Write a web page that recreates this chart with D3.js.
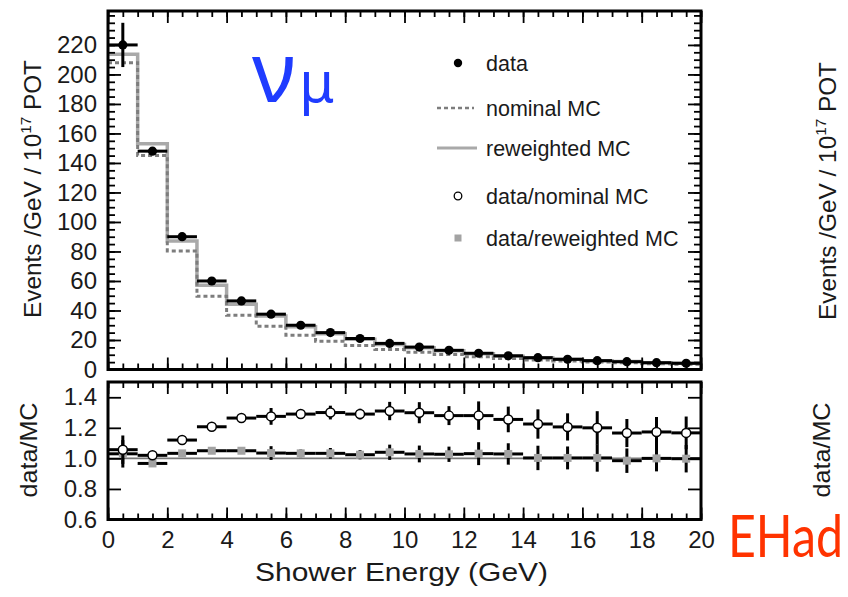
<!DOCTYPE html>
<html>
<head>
<meta charset="utf-8">
<script src="https://cdn.jsdelivr.net/npm/d3@7"></script>
<style>
  body { margin: 0; background: #fff; }
  svg { display: block; font-family: "Liberation Sans", Arial, Helvetica, sans-serif; }
</style>
</head>
<body>
<div id="chart"></div>
<script>
// Bins of shower energy (GeV)
const binLo = [0, 1, 2, 3, 4, 5, 6, 7, 8, 9, 10, 11, 12, 13, 14, 15, 16, 17, 18, 19];
const binHi = [1, 2, 3, 4, 5, 6, 7, 8, 9, 10, 11, 12, 13, 14, 15, 16, 17, 18, 19, 20];

// Events /GeV / 1e17 POT
const dataEvents = [220, 148, 90, 60, 46.5, 37.5, 30, 25, 21, 17.7, 15.2, 13, 11, 9.3, 8, 6.9, 6, 5.3, 4.6, 4.2];
const dataErr = [15, 2.5, 1.5, 1.2, 1.1, 1.5, 1.0, 1.0, 0.8, 1.0, 1.0, 0.8, 1.0, 0.8, 0.8, 0.6, 0.6, 0.5, 0.5, 0.45];
const nominalMC = [208, 145, 80.4, 49.7, 36.8, 29.4, 23.3, 19.2, 16.3, 13.5, 11.7, 10.2, 8.6, 7.4, 6.5, 5.7, 5.0, 4.5, 3.9, 3.6];
const reweightedMC = [213.6, 153, 87.1, 57.1, 44.3, 36.2, 29, 24.2, 20.5, 17, 14.8, 12.7, 10.7, 9.0, 8.0, 6.9, 6.0, 5.4, 4.6, 4.2];

// ratios
const ratioNominal = [1.057, 1.02, 1.12, 1.207, 1.264, 1.275, 1.29, 1.30, 1.29, 1.31, 1.299, 1.28, 1.28, 1.255, 1.225, 1.206, 1.2, 1.166, 1.173, 1.167];
const ratioNominalErr = [0.093, 0.015, 0.015, 0.02, 0.025, 0.055, 0.03, 0.045, 0.035, 0.06, 0.069, 0.062, 0.093, 0.084, 0.096, 0.089, 0.109, 0.092, 0.098, 0.107];
const ratioReweighted = [1.03, 0.967, 1.033, 1.05, 1.05, 1.035, 1.033, 1.033, 1.024, 1.04, 1.029, 1.027, 1.031, 1.029, 1.003, 1.003, 1.003, 0.985, 1.0, 0.998];
const ratioReweightedErr = [0.09, 0.015, 0.015, 0.02, 0.02, 0.045, 0.025, 0.035, 0.03, 0.05, 0.055, 0.05, 0.075, 0.07, 0.08, 0.075, 0.09, 0.08, 0.085, 0.09];

// tick labels
const xTicks = [0, 2, 4, 6, 8, 10, 12, 14, 16, 18, 20];
const eventTicks = [0, 20, 40, 60, 80, 100, 120, 140, 160, 180, 200, 220];
const ratioTicks = [0.6, 0.8, 1.0, 1.2, 1.4];
const legendLabels = ["data", "nominal MC", "reweighted MC", "data/nominal MC", "data/reweighted MC"];

const width = 848, height = 597;
const svg = d3.select("#chart").append("svg")
    .attr("width", width)
    .attr("height", height);

// scales
const xScale = d3.scaleLinear().domain([0, 20]).range([108, 701]);
const yEvents = d3.scaleLinear().domain([0, 243]).range([369.5, 11]);
const yRatio = d3.scaleLinear().domain([0.6, 1.5]).range([519.5, 382]);

const bins = binLo.map((lo, i) => ({
    lo: lo, hi: binHi[i], mid: (lo + binHi[i]) / 2,
    data: dataEvents[i], err: dataErr[i],
    nom: nominalMC[i], rw: reweightedMC[i],
    rNom: ratioNominal[i], rNomErr: ratioNominalErr[i],
    rRw: ratioReweighted[i], rRwErr: ratioReweightedErr[i]
}));

// draw ticks for one panel (inward ticks on all four sides)
function panelAxes(yScale, majorY, minorY, showXLabels) {
    const top = yScale.range()[1], bottom = yScale.range()[0];
    const x0 = xScale.range()[0], x1 = xScale.range()[1];
    const minorX = d3.range(0, 20.01, 0.5);

    const axes = [
        [d3.axisBottom(xScale).tickValues(xTicks).tickSize(-12), `translate(0,${bottom})`, showXLabels],
        [d3.axisBottom(xScale).tickValues(minorX).tickSize(-6), `translate(0,${bottom})`, false],
        [d3.axisTop(xScale).tickValues(xTicks).tickSize(-12), `translate(0,${top})`, false],
        [d3.axisTop(xScale).tickValues(minorX).tickSize(-6), `translate(0,${top})`, false],
        [d3.axisLeft(yScale).tickValues(majorY).tickSize(-13), `translate(${x0},0)`, true],
        [d3.axisRight(yScale).tickValues(majorY).tickSize(-13), `translate(${x1},0)`, false]
    ];
    if (minorY) {
        axes.push([d3.axisLeft(yScale).tickValues(minorY).tickSize(-7), `translate(${x0},0)`, false]);
        axes.push([d3.axisRight(yScale).tickValues(minorY).tickSize(-7), `translate(${x1},0)`, false]);
    }
    axes.forEach(([axis, tr, labels]) => {
        axis.tickPadding(11);
        if (!labels) axis.tickFormat("");
        else if (axis === axes[4][0]) axis.tickFormat(yScale === yRatio ? d3.format(".1f") : d3.format("d"));
        else axis.tickFormat(d3.format("d"));
        const g = svg.append("g").attr("transform", tr).call(axis);
        g.select(".domain").remove();
        g.selectAll(".tick line").attr("stroke", "#000").attr("stroke-width", 1.8);
        g.selectAll(".tick text")
            .attr("fill", "#1a1a1a")
            .style("font-size", "24px");
    });

    // frame
    svg.append("rect")
        .attr("x", x0).attr("y", top)
        .attr("width", x1 - x0).attr("height", bottom - top)
        .attr("fill", "none").attr("stroke", "#000").attr("stroke-width", 3);
}

// ---- top panel ----
const stepPoints = key => bins.flatMap(b => [[b.lo, b[key]], [b.hi, b[key]]]);
const stepLine = d3.line().x(d => xScale(d[0])).y(d => yEvents(d[1]));

svg.append("path")
    .attr("d", stepLine(stepPoints("rw")))
    .attr("fill", "none")
    .attr("stroke", "#a9a9a9")
    .attr("stroke-width", 3.5);

svg.append("path")
    .attr("d", stepLine(stepPoints("nom")))
    .attr("fill", "none")
    .attr("stroke", "#7d7d7d")
    .attr("stroke-width", 3)
    .attr("stroke-dasharray", "4,3");

const dataG = svg.append("g");
dataG.selectAll(".hbar").data(bins).join("line")
    .attr("x1", d => xScale(d.lo)).attr("x2", d => xScale(d.hi))
    .attr("y1", d => yEvents(d.data)).attr("y2", d => yEvents(d.data))
    .attr("stroke", "#000").attr("stroke-width", 3);
dataG.selectAll(".vbar").data(bins).join("line")
    .attr("x1", d => xScale(d.mid)).attr("x2", d => xScale(d.mid))
    .attr("y1", d => yEvents(d.data - d.err)).attr("y2", d => yEvents(d.data + d.err))
    .attr("stroke", "#000").attr("stroke-width", 3);
dataG.selectAll("circle").data(bins).join("circle")
    .attr("cx", d => xScale(d.mid)).attr("cy", d => yEvents(d.data))
    .attr("r", 4.6).attr("fill", "#000");

panelAxes(yEvents, eventTicks, d3.range(0, 241, 5), false);

// ---- ratio panel ----
svg.append("line")
    .attr("x1", xScale(0)).attr("x2", xScale(20))
    .attr("y1", yRatio(1)).attr("y2", yRatio(1))
    .attr("stroke", "#777").attr("stroke-width", 1.6);

function ratioSeries(valKey, errKey, marker) {
    const g = svg.append("g");
    g.selectAll(".hbar").data(bins).join("line")
        .attr("x1", d => xScale(d.lo)).attr("x2", d => xScale(d.hi))
        .attr("y1", d => yRatio(d[valKey])).attr("y2", d => yRatio(d[valKey]))
        .attr("stroke", "#000").attr("stroke-width", 3);
    g.selectAll(".vbar").data(bins).join("line")
        .attr("x1", d => xScale(d.mid)).attr("x2", d => xScale(d.mid))
        .attr("y1", d => yRatio(d[valKey] - d[errKey])).attr("y2", d => yRatio(d[valKey] + d[errKey]))
        .attr("stroke", "#000").attr("stroke-width", 3);
    if (marker === "circle") {
        g.selectAll(".m").data(bins).join("circle")
            .attr("cx", d => xScale(d.mid)).attr("cy", d => yRatio(d[valKey]))
            .attr("r", 4.5).attr("fill", "#fff").attr("stroke", "#000").attr("stroke-width", 1.5);
    } else {
        g.selectAll(".m").data(bins).join("rect")
            .attr("x", d => xScale(d.mid) - 4).attr("y", d => yRatio(d[valKey]) - 4)
            .attr("width", 8).attr("height", 8).attr("fill", "#a3a3a3");
    }
}
ratioSeries("rRw", "rRwErr", "square");
ratioSeries("rNom", "rNomErr", "circle");

panelAxes(yRatio, ratioTicks, null, true);

// ---- axis titles ----
function vTitle(x, yc, len, parts) {
    const t = svg.append("text")
        .attr("transform", `translate(${x},${yc}) rotate(-90)`)
        .attr("text-anchor", "middle")
        .attr("fill", "#1a1a1a")
        .style("font-size", "24px");
    parts.forEach(p => {
        const s = t.append("tspan").text(p.text);
        if (p.sup) s.attr("dy", -10).style("font-size", "15px");
        if (p.down) s.attr("dy", 10);
    });
    t.attr("textLength", len).attr("lengthAdjust", "spacingAndGlyphs");
}
const eventsTitle = [{ text: "Events /GeV / 10" }, { text: "17", sup: true }, { text: " POT", down: true }];
vTitle(41, 189, 258, eventsTitle);
vTitle(836, 191, 258, eventsTitle);
vTitle(37, 450, 95, [{ text: "data/MC" }]);
vTitle(830, 450, 95, [{ text: "data/MC" }]);

svg.append("text")
    .attr("x", 255).attr("y", 581)
    .attr("textLength", 293).attr("lengthAdjust", "spacingAndGlyphs")
    .attr("fill", "#1a1a1a")
    .style("font-size", "25px")
    .text("Shower Energy (GeV)");

// ---- legend ----
const legendY = [63, 108, 148, 196, 238];
const legend = svg.append("g");
legendLabels.forEach((label, i) => {
    legend.append("text")
        .attr("x", 486).attr("y", legendY[i] + 7.5)
        .attr("fill", "#1a1a1a")
        .style("font-size", "21.5px")
        .text(label);
});
legend.append("circle").attr("cx", 458).attr("cy", legendY[0]).attr("r", 4.2).attr("fill", "#000");
legend.append("line").attr("x1", 437).attr("x2", 474).attr("y1", legendY[1]).attr("y2", legendY[1])
    .attr("stroke", "#7d7d7d").attr("stroke-width", 2.5).attr("stroke-dasharray", "4,3");
legend.append("line").attr("x1", 437).attr("x2", 477).attr("y1", legendY[2]).attr("y2", legendY[2])
    .attr("stroke", "#a9a9a9").attr("stroke-width", 3);
legend.append("circle").attr("cx", 458).attr("cy", legendY[3]).attr("r", 3.8)
    .attr("fill", "#fff").attr("stroke", "#000").attr("stroke-width", 1.3);
legend.append("rect").attr("x", 454.5).attr("y", legendY[4] - 3.5).attr("width", 7).attr("height", 7)
    .attr("fill", "#a3a3a3");

// ---- annotations ----
const nu = svg.append("text")
    .attr("x", 252).attr("y", 102)
    .attr("fill", "#1f3cff")
    .style("font-family", "'Noto Sans', 'DejaVu Sans', sans-serif");
nu.append("tspan").style("font-size", "84px").text("ν");
nu.append("tspan").attr("dx", 4).style("font-size", "56px").text("μ");

// EHad label: squeeze horizontally so it ends just inside the right edge
const ehad = svg.append("text")
    .attr("fill", "#ff3300")
    .style("font-family", "Lato, 'Open Sans', sans-serif")
    .style("font-size", "58px")
    .text("EHad");
const ehadLen = ehad.node().getComputedTextLength();
ehad.attr("transform", `translate(728,557) scale(${115 / ehadLen},1)`);
</script>
</body>
</html>
